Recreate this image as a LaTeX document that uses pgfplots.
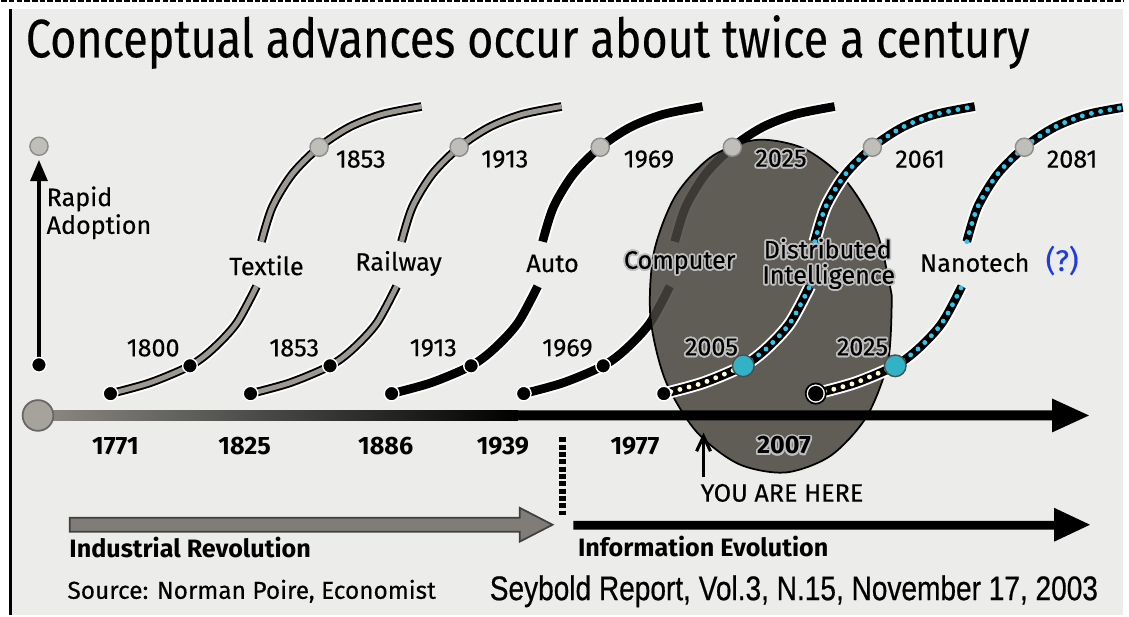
\documentclass[border=0pt]{standalone}
\usepackage{fontspec}
\setmainfont{Fira Sans}
\newfontfamily\medfont{Fira Sans}[FakeBold=0.35]
\newfontfamily\arialfont{Liberation Sans}[FakeBold=0.6]
\usepackage{graphicx}
\usepackage{pgfplots}
\pgfplotsset{compat=1.18}
\usepackage[copies]{contour}
\contourlength{0.5pt}

\definecolor{bgc}{RGB}{236,236,234}
\definecolor{curvegray}{RGB}{156,153,146}
\definecolor{dotgray}{RGB}{192,190,185}
\definecolor{ellc}{RGB}{72,68,62}
\definecolor{cyandot}{RGB}{45,200,240}
\definecolor{paledot}{RGB}{255,252,205}
\definecolor{tealdot}{RGB}{50,178,198}
\definecolor{arrgray}{RGB}{128,125,120}
\definecolor{qblue}{RGB}{30,60,230}

% one segment of an S-curve: white halo, black body, optional inner colour
\newcommand\halo[1]{\addplot[white, line width=3.6pt, smooth] coordinates {#1};}
\newcommand\blk[1]{\addplot[black, line width=2.5pt, smooth] coordinates {#1};}
\newcommand\inner[2]{\addplot[#1, line width=1.4pt, smooth] coordinates {#2};}
\newcommand\dotted[2]{\addplot[#1, line width=1.4pt, smooth, line cap=round,
    dash pattern=on 0pt off 2.7pt] coordinates {#2};}

\tikzset{lab/.style={font=\medfont\fontsize{7.2}{8}\selectfont, inner sep=0pt}}

\begin{document}
\begin{tikzpicture}
\begin{axis}[
    scale only axis,
    width=11.29cm, height=6.21cm,
    xmin=0, xmax=1129, ymin=0, ymax=621,
    y dir=reverse,
    hide axis,
    clip=false,
]
% background and frame
\addplot[fill=bgc, draw=none] coordinates {(9,11) (1129,11) (1129,621) (9,621)} -- cycle;
\addplot[black, line width=0.8pt] coordinates {(9,11) (9,621)};
\addplot[black, line width=0.7pt, dash pattern=on 1.6pt off 0.6pt] coordinates {(0,3) (1129,3)};

% --- Textile
\halo{(110,398) (150,387) (190,370) (213,353) (237,327) (257,290)}
\blk{(110,398) (150,387) (190,370) (213,353) (237,327) (257,290)}
\inner{curvegray}{(110,398) (150,387) (190,370) (213,353) (237,327) (257,290)}
\halo{(262,245) (273,210) (293,177) (320,150) (350,130) (383,117) (423,109)}
\blk{(262,245) (273,210) (293,177) (320,150) (350,130) (383,117) (423,109)}
\inner{curvegray}{(262,245) (273,210) (293,177) (320,150) (350,130) (383,117) (423,109)}
% --- Railway
\halo{(251,398) (291,387) (331,370) (354,353) (378,327) (398,290)}
\blk{(251,398) (291,387) (331,370) (354,353) (378,327) (398,290)}
\inner{curvegray}{(251,398) (291,387) (331,370) (354,353) (378,327) (398,290)}
\halo{(403,245) (414,210) (434,177) (461,150) (491,130) (524,117) (564,109)}
\blk{(403,245) (414,210) (434,177) (461,150) (491,130) (524,117) (564,109)}
\inner{curvegray}{(403,245) (414,210) (434,177) (461,150) (491,130) (524,117) (564,109)}
% --- Auto
\halo{(393,398) (433,387) (473,370) (496,353) (520,327) (540,290)}
\blk{(393,398) (433,387) (473,370) (496,353) (520,327) (540,290)}
\halo{(545,245) (556,210) (576,177) (603,150) (633,130) (666,117) (706,109)}
\blk{(545,245) (556,210) (576,177) (603,150) (633,130) (666,117) (706,109)}
% --- Computer
\halo{(526,398) (566,387) (606,370) (629,353) (653,327) (673,290)}
\blk{(526,398) (566,387) (606,370) (629,353) (653,327) (673,290)}
\halo{(678,245) (689,210) (709,177) (736,150) (766,130) (799,117) (839,109)}
\blk{(678,245) (689,210) (709,177) (736,150) (766,130) (799,117) (839,109)}

% dots of the first four curves
\addplot[only marks, mark=*, mark size=2.1pt, mark options={fill=black, draw=white, line width=0.4pt}]
    coordinates {(110,398) (190,370) (251,398) (331,370) (393,398) (473,370) (526,398) (606,370) (38,369)};
\addplot[only marks, mark=*, mark size=2.6pt, mark options={fill=dotgray, draw=black!45, line width=0.4pt}]
    coordinates {(320,150) (461,150) (603,150) (736,150) (38,149)};

% the "you are here" ellipse
\addplot[fill=ellc, fill opacity=0.85, draw=black, line width=0.5pt, smooth]
    coordinates {(896.5,299.4) (892.9,364.3) (871.4,420.8) (835.0,460.5) (789.6,477.4)
    (742.0,468.7) (699.4,435.8) (668.3,383.9) (653.5,320.6) (657.1,255.7) (678.6,199.2)
    (715.0,159.5) (760.4,142.6) (808.0,151.3) (850.6,184.2) (881.7,236.1) (896.5,299.4)} -- cycle;

% --- Distributed Intelligence
\halo{(667,398) (707,387) (747,370) (770,353) (794,327) (814,290)}
\blk{(667,398) (707,387) (747,370) (770,353) (794,327) (814,290)}
\halo{(819,245) (830,210) (850,177) (877,150) (907,130) (940,117) (980,109)}
\blk{(819,245) (830,210) (850,177) (877,150) (907,130) (940,117) (980,109)}
\dotted{paledot}{(674,396) (707,387) (747,370)}
\dotted{cyandot}{(747,370) (770,353) (794,327) (814,290)}
\dotted{cyandot}{(819,245) (830,210) (850,177) (877,150) (907,130) (940,117) (980,109)}
% --- Nanotech
\halo{(820,398) (860,387) (900,370) (923,353) (947,327) (967,290)}
\blk{(820,398) (860,387) (900,370) (923,353) (947,327) (967,290)}
\halo{(972,245) (983,210) (1003,177) (1030,150) (1060,130) (1093,117) (1129,110)}
\blk{(972,245) (983,210) (1003,177) (1030,150) (1060,130) (1093,117) (1129,110)}
\dotted{paledot}{(829,396) (860,387) (900,370)}
\dotted{cyandot}{(900,370) (923,353) (947,327) (967,290)}
\dotted{cyandot}{(972,245) (983,210) (1003,177) (1030,150) (1060,130) (1093,117) (1129,110)}

\addplot[only marks, mark=*, mark size=2.1pt, mark options={fill=black, draw=white, line width=0.4pt}]
    coordinates {(667,398)};
\addplot[only marks, mark=*, mark size=2.9pt, mark options={fill=white, draw=black, line width=0.5pt}]
    coordinates {(820,398)};
\addplot[only marks, mark=*, mark size=2.0pt, mark options={fill=black, draw=black}]
    coordinates {(820,398)};
\addplot[only marks, mark=*, mark size=3.1pt, mark options={fill=tealdot, draw=black!70, line width=0.4pt}]
    coordinates {(747,370) (900,370)};
\addplot[only marks, mark=*, mark size=2.6pt, mark options={fill=dotgray, draw=black!45, line width=0.4pt}]
    coordinates {(877,150) (1030,150)};

% main time axis
\addplot[left color=arrgray!90, right color=black, draw=none]
    coordinates {(37,415) (520,415) (520,425) (37,425)} -- cycle;
\addplot[fill=black, draw=none]
    coordinates {(518,415) (1058,415) (1058,403) (1095,420) (1058,437) (1058,425) (518,425)} -- cycle;
\addplot[only marks, mark=*, mark size=4.4pt, mark options={fill=curvegray!90, draw=black!60, line width=0.5pt}]
    coordinates {(37,420)};

% rapid adoption arrow
\addplot[black, line width=1.4pt] coordinates {(38,365) (38,180)};
\addplot[fill=black, draw=none] coordinates {(29,184) (38,163) (47,184)} -- cycle;

% divider and the two era arrows
\addplot[black, line width=1.9pt, dash pattern=on 1.4pt off 0.7pt] coordinates {(565,442) (565,520)};
\addplot[fill=arrgray, draw=black!75, line width=0.5pt]
    coordinates {(69,523) (522,523) (522,513) (555,530) (522,547) (522,537) (69,537)} -- cycle;
\addplot[fill=black, draw=none]
    coordinates {(576,526) (1060,526) (1060,513) (1096,530) (1060,547) (1060,535) (576,535)} -- cycle;

% you are here
\addplot[black, line width=0.9pt] coordinates {(707,482) (707,442)};
\addplot[black, line width=0.9pt] coordinates {(700,456) (707,441) (714,456)};

% texts
\node[font=\medfont\fontsize{15.5}{18}\selectfont, inner sep=0pt] at (530,44)
    {\scalebox{0.83}[1]{Conceptual advances occur about twice a century}};
\node[lab, anchor=west] at (45,202) {Rapid};
\node[lab, anchor=west] at (45,230) {Adoption};

\node[lab] at (153,352) {1800};
\node[lab] at (295,352) {1853};
\node[lab] at (435,352) {1913};
\node[lab] at (570,352) {1969};
\node[lab] at (715,352) {\contour{black!25}{2005}};
\node[lab] at (867,352) {\contour{black!25}{2025}};

\node[lab] at (362,162) {1853};
\node[lab] at (507,162) {1913};
\node[lab] at (652,162) {1969};
\node[lab] at (785,162) {\contour{black!25}{2025}};
\node[lab] at (925,162) {2061};
\node[lab] at (1078,162) {2081};

\node[lab] at (267,269) {Textile};
\node[lab] at (400,267) {Railway};
\node[lab] at (555,267) {Auto};
\node[lab] at (683,267) {\contour{black!25}{Computer}};
\node[lab] at (832,253) {\contour{black!25}{Distributed}};
\node[lab] at (833,281) {\contour{black!25}{Intelligence}};
\node[lab] at (980,266) {Nanotech};
\node[lab, text=qblue, font=\medfont\fontsize{8.5}{9}\selectfont] at (1068,264) {(?)};

\node[lab, font=\fontsize{7.2}{8}\selectfont\bfseries] at (115,451) {1771};
\node[lab, font=\fontsize{7.2}{8}\selectfont\bfseries] at (245,451) {1825};
\node[lab, font=\fontsize{7.2}{8}\selectfont\bfseries] at (387,451) {1886};
\node[lab, font=\fontsize{7.2}{8}\selectfont\bfseries] at (505,451) {1939};
\node[lab, font=\fontsize{7.2}{8}\selectfont\bfseries] at (638,451) {1977};
\node[lab, font=\fontsize{7.2}{8}\selectfont\bfseries] at (788,451) {\contour{black!25}{2007}};

\node[lab] at (786,498) {YOU ARE HERE};
\node[lab, anchor=west, font=\fontsize{7.2}{8}\selectfont\bfseries] at (68,553) {Industrial Revolution};
\node[lab, anchor=west, font=\fontsize{7.2}{8}\selectfont\bfseries] at (580,552) {Information Evolution};
\node[lab, anchor=west, font=\medfont\fontsize{7}{8}\selectfont] at (66,597) {Source: Norman Poire, Economist};
\node[inner sep=0pt, font=\arialfont\fontsize{9.8}{11}\selectfont] at (798,597)
    {\scalebox{0.82}[1]{Seybold Report, Vol.3, N.15, November 17, 2003}};
\end{axis}
\end{tikzpicture}
\end{document}
